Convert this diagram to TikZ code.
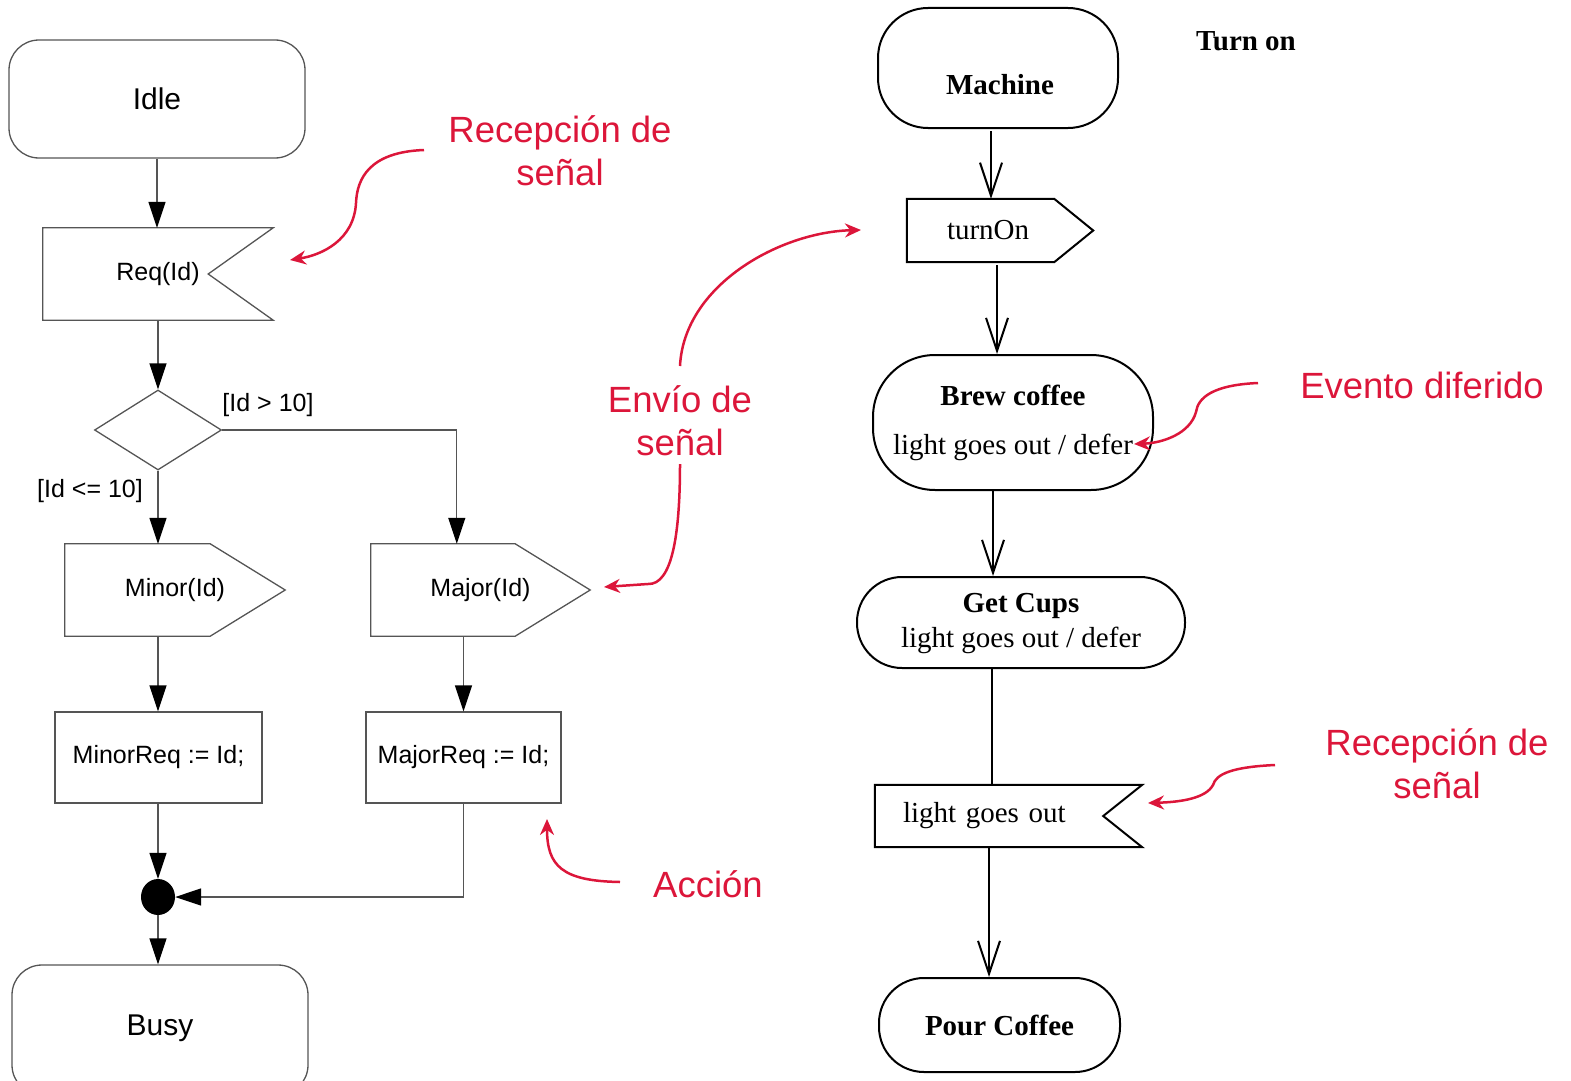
\documentclass[tikz,border=0pt]{standalone}
\usepackage{fontspec}
\setmainfont{Liberation Serif}
\newfontfamily\arialf{Liberation Sans}
\usetikzlibrary{arrows.meta,calc,shapes.geometric}
\definecolor{annred}{RGB}{220,22,58}
\definecolor{lgray}{RGB}{85,85,85}
\begin{document}
\begin{tikzpicture}[x=1pt,y=-1pt,
  lline/.style={draw=lgray,line width=1.3pt},
  larr/.style={lline,-{Triangle[width=17pt,length=26pt,color=black]}},
  lstate/.style={lline,rounded corners=30pt,inner sep=0pt,minimum width=296pt,minimum height=118pt,font=\arialf\fontsize{30}{36}\selectfont},
  lbox/.style={lline,inner sep=0pt,minimum height=91pt,font=\arialf\fontsize{25}{30}\selectfont},
  lsig/.style={inner sep=0pt,minimum height=92pt,font=\arialf\fontsize{25}{30}\selectfont},
  llab/.style={inner sep=0pt,font=\arialf\fontsize{25}{30}\selectfont},
  rline/.style={draw=black,line width=2pt},
  rarr/.style={rline,-{Straight Barb[length=33pt,width=22pt]}},
  rstate/.style={rline,inner sep=0pt,align=center,font=\fontsize{29}{35}\selectfont},
  rsig/.style={inner sep=0pt,font=\fontsize{29}{35}\selectfont},
  ann/.style={text=annred,align=center,inner sep=0pt,font=\arialf\fontsize{36.5}{43}\selectfont},
  aarr/.style={draw=annred,line width=2.5pt,-{Stealth[length=16pt,width=14pt]}}
]
\useasboundingbox (0,0) rectangle (1571,1081);

% ---------- left diagram ----------
\node[lstate] (idle) at (157,99) {Idle};
\node[lsig,minimum width=230pt] (req) at (158,274) {Req(Id)};
\draw[lline] (req.north west) -- (req.north east) -- ($(req.east)+(-65,0)$) -- (req.south east) -- (req.south west) -- cycle;
\node[diamond,lline,inner sep=0pt,minimum width=127pt,minimum height=80pt] (dia) at (158,430) {};
\node[llab] (gt) at (268,405) {[Id > 10]};
\node[llab] (le) at (90,491) {[Id <= 10]};
\node[lsig,minimum width=220pt] (minor) at (175,590) {Minor(Id)};
\draw[lline] (minor.north west) -- ($(minor.north east)+(-75,0)$) -- (minor.east) -- ($(minor.south east)+(-75,0)$) -- (minor.south west) -- cycle;
\node[lsig,minimum width=219pt] (major) at (480.5,590) {Major(Id)};
\draw[lline] (major.north west) -- ($(major.north east)+(-75,0)$) -- (major.east) -- ($(major.south east)+(-75,0)$) -- (major.south west) -- cycle;
\node[lbox,minimum width=207pt] (minorreq) at (158.5,757.5) {MinorReq := Id;};
\node[lbox,minimum width=195pt] (majorreq) at (463.5,757.5) {MajorReq := Id;};
\node[ellipse,fill=black,inner sep=0pt,minimum width=34pt,minimum height=36pt] (dot) at (158,897) {};
\node[lstate,minimum height=130pt] (busy) at (160,1030) {\raisebox{10pt}{Busy}};

\draw[larr] (idle.south) -- (idle.south |- req.north);
\draw[larr] (dia.north |- req.south) -- (dia.north);
\draw[larr] (dia.south) -- (dia.south |- minor.north);
\draw[larr] (dia.east) -| ($(major.north west)+(86,0)$);
\draw[larr] (dia.south |- minor.south) -- (dia.south |- minorreq.north);
\draw[larr] (majorreq.north |- major.south) -- (majorreq.north);
\draw[larr] (dot.north |- minorreq.south) -- (dot.north);
\draw[larr] (majorreq.south) |- (dot.east);
\draw[larr] (dot.south) -- (dot.south |- busy.north);

% ---------- right diagram ----------
\node[rstate,rounded corners=50pt,minimum width=240pt,minimum height=120pt] (machine) at (998,68) {};
\node[rsig,font=\bfseries\fontsize{29}{35}\selectfont] (machinetxt) at (1000,85) {Machine};
\node[rsig,font=\bfseries\fontsize{29}{35}\selectfont] (title) at (1246,41) {Turn on};
\node[rsig,minimum height=63pt,text width=106pt,inner xsep=40pt,align=left] (turnon) at (1000,230.5) {turnOn};
\draw[rline] (turnon.north west) -- ($(turnon.north east)+(-39,0)$) -- (turnon.east) -- ($(turnon.south east)+(-39,0)$) -- (turnon.south west) -- cycle;
\node[rstate,rounded corners=62pt,minimum width=280pt,minimum height=135pt,font=\fontsize{29}{49}\selectfont] (brew) at (1013,422.5) {\textbf{Brew coffee}\\light goes out / defer};
\node[rstate,rounded corners=45pt,minimum width=328pt,minimum height=91pt] (getcups) at (1021,622.5) {\raisebox{-12pt}{\begin{tabular}{@{}c@{}}\textbf{Get Cups}\\light goes out / defer\end{tabular}}};
\node[rsig,minimum height=62pt,text width=211pt,inner xsep=28pt,align=left] (lgo) at (1008.5,816) {light goes out};
\draw[rline] (lgo.north west) -- (lgo.north east) -- ($(lgo.east)+(-39,0)$) -- (lgo.south east) -- (lgo.south west) -- cycle;
\node[rstate,rounded corners=45pt,minimum width=241pt,minimum height=94pt,font=\bfseries\fontsize{29}{35}\selectfont] (pour) at (999.5,1025) {Pour Coffee};

\draw[rarr] ($(machine.south)+(-7,2)$) -- ($(turnon.north)+(-9,0)$);
\draw[rarr] ($(turnon.south)+(-3,3)$) -- ($(brew.north)+(-16,0)$);
\draw[rarr] ($(brew.south)+(-20,0)$) -- ($(getcups.north)+(-28,0)$);
\draw[rline] ($(getcups.south)+(-29,0)$) -- ($(lgo.north)+(-16.5,0)$);
\draw[rarr] ($(lgo.south)+(-19.5,0)$) -- ($(pour.north)+(-10.5,0)$);

% ---------- annotations ----------
\node[ann] (t1) at (560,151) {Recepción de\\señal};
\node[ann] (t2) at (680,421) {Envío de\\señal};
\node[ann] (t3) at (708,884) {Acción};
\node[ann] (t4) at (1422,385) {Evento diferido};
\node[ann] (t5) at (1437,764) {Recepción de\\señal};

\coordinate (a1s) at (424,150);
\coordinate (a1e) at (290,260);
\coordinate (a2s) at (680,366);
\coordinate (a2e) at (861,230);
\coordinate (a3s) at (680,464);
\coordinate (a3e) at (604,587);
\coordinate (a4s) at (620,882);
\coordinate (a4e) at (547,819);
\coordinate (a5s) at (1258,383);
\coordinate (a5e) at (1134,444);
\coordinate (a6s) at (1275,765);
\coordinate (a6e) at (1148,803);

\draw[aarr] (a1s) .. controls (370,152) and (357,178) .. (356,203) .. controls (354,240) and (322,255) .. (a1e);
\draw[aarr] (a2s) .. controls (684,285) and (780,232) .. (a2e);
\draw[aarr] (a3s) .. controls (680,535) and (672,585) .. (648,584) -- (a3e);
\draw[aarr] (a4s) .. controls (562,881) and (547,866) .. (a4e);
\draw[aarr] (a5s) .. controls (1212,385) and (1198,398) .. (1196,412) .. controls (1190,434) and (1162,443) .. (a5e);
\draw[aarr] (a6s) .. controls (1232,767) and (1216,774) .. (1213,785) .. controls (1206,798) and (1182,802) .. (a6e);
\end{tikzpicture}
\end{document}
